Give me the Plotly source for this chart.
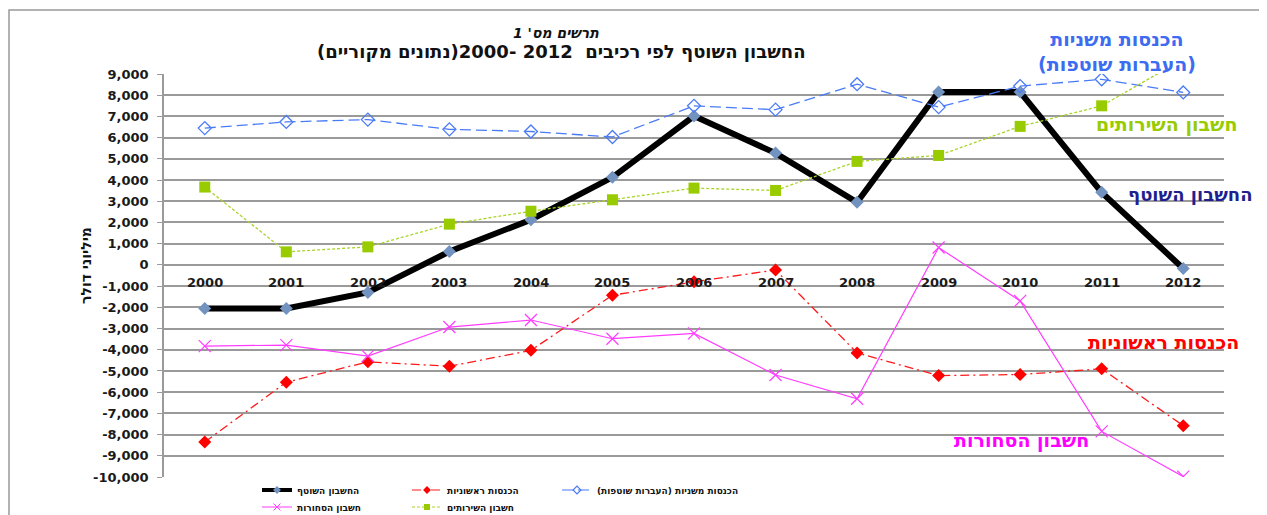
import plotly.graph_objects as go

RLE, PDF = "\u202b", "\u202c"

years = list(range(2000, 2013))
current_account = [-2050, -2050, -1300, 630, 2130, 4130, 7020, 5270, 2950, 8150, 8150, 3420, -170]
primary_income = [-8350, -5530, -4570, -4780, -4030, -1430, -800, -240, -4150, -5220, -5170, -4900, -7580]
secondary_income = [6450, 6740, 6850, 6390, 6290, 6030, 7500, 7320, 8520, 7440, 8430, 8750, 8130]
goods = [-3830, -3780, -4300, -2930, -2600, -3480, -3230, -5190, -6310, 820, -1700, -7850, -9980]
services = [3670, 615, 850, 1920, 2530, 3070, 3620, 3510, 4880, 5160, 6530, 7500, 9700]

tick_vals = list(range(-10000, 9001, 1000))
tick_text = [f"{v:,}" for v in tick_vals]

name_current = "החשבון השוטף"
name_primary = "הכנסות ראשוניות"
name_secondary = "הכנסות משניות (העברות שוטפות)"
name_goods = "חשבון הסחורות"
name_services = "חשבון השירותים"

FONT = "DejaVu Sans, Arial, sans-serif"

series = [
    # name, values, line, marker, legend marker, legend line width, legend id, legend width
    (name_current, current_account,
     dict(color="black", width=6),
     dict(symbol="diamond", size=10, color="#7292c0", line=dict(width=0)),
     dict(symbol="diamond", size=6, color="#7292c0", line=dict(width=0)), 4, "legend", None),
    (name_primary, primary_income,
     dict(color="#ff1a1a", width=1.3, dash="9px,4px,2px,4px"),
     dict(symbol="diamond", size=10, color="#ff0000"),
     dict(symbol="diamond", size=6, color="#ff0000"), 1.2, "legend", None),
    (name_secondary, secondary_income,
     dict(color="#4a7bf7", width=1.3, dash="11px,5px"),
     dict(symbol="diamond-open", size=10, color="#4a7bf7", line=dict(width=1.3)),
     dict(symbol="diamond-open", size=6, color="#4a7bf7", line=dict(width=1.2)), 1.2, "legend", 160),
    (name_goods, goods,
     dict(color="#ff3cff", width=1.2),
     dict(symbol="x-thin-open", size=12, color="#ff3cff", line=dict(width=1.2, color="#ff3cff")),
     dict(symbol="x-thin-open", size=7, color="#ff3cff", line=dict(width=1, color="#ff3cff")), 1.2, "legend2", None),
    (name_services, services,
     dict(color="#a8d42a", width=1.3, dash="3px,2px"),
     dict(symbol="square", size=11, color="#99cc00"),
     dict(symbol="square", size=6, color="#99cc00"), 1.2, "legend2", None),
]

fig = go.Figure()
for name, vals, line, marker, lmarker, lwidth, leg, lw in series:
    fig.add_trace(go.Scatter(x=years, y=vals, name=name, mode="lines+markers",
                             line=line, marker=marker, showlegend=False))
for name, vals, line, marker, lmarker, lwidth, leg, lw in series:
    lline = dict(line)
    lline["width"] = lwidth
    fig.add_trace(go.Scatter(x=[None], y=[None], name=name, mode="lines+markers",
                             line=lline, marker=lmarker, legend=leg, legendwidth=lw,
                             showlegend=True, hoverinfo="skip"))

# geometry helpers (plot area in image pixels); page body adds an 8px offset
OFF = 8
IMG_W, IMG_H = 1267, 515
L, R, T, B = 164, 1224, 74, 477
def px(xp):
    return (xp - L) / (R - L)
def py(yp):
    return (B - yp) / (B - T)

def note(x, y, text, size, color, angle=0):
    return dict(x=px(x), y=py(y), xref="paper", yref="paper", showarrow=False,
                xanchor="center", yanchor="middle", textangle=angle, text=text,
                font=dict(family=FONT, size=size, color=color, weight="bold"))

annotations = []
for yr in years:
    annotations.append(dict(x=yr, y=0, xref="x", yref="y", text=str(yr), showarrow=False,
                            xanchor="center", yanchor="top", yshift=-8,
                            font=dict(family=FONT, size=13, color="#1a1a1a", weight="bold")))

annotations += [
    note(556, 33, f"<i>{RLE}תרשים מס' 1{PDF}</i>", 14, "#111"),
    note(561, 52, f"{RLE}החשבון השוטף לפי רכיבים  2012 -2000(נתונים מקוריים){PDF}", 18, "#111"),
    note(86, 266, f"{RLE}מיליוני דולר{PDF}", 14, "#111", -90),
    note(1117, 52, f"{RLE}הכנסות משניות{PDF}<br>{RLE}(העברות שוטפות){PDF}", 19, "#3d6cf0"),
    note(1167, 125, f"{RLE}{name_services}{PDF}", 19, "#99cc00"),
    note(1190, 195, f"{RLE}{name_current}{PDF}", 18, "#1f1f8f"),
    note(1163, 342, f"{RLE}{name_primary}{PDF}", 19, "#ff0000"),
    note(1021, 440, f"{RLE}{name_goods}{PDF}", 19, "#ff00ff"),
]

legend_common = dict(orientation="h", xanchor="left", yanchor="middle",
                     bgcolor="rgba(0,0,0,0)", entrywidth=105, entrywidthmode="pixels",
                     font=dict(family=FONT, size=9, color="#111", weight="bold"),
                     tracegroupgap=0)

fig.update_layout(
    width=IMG_W - OFF, height=IMG_H - OFF,
    margin=dict(l=L - OFF, r=IMG_W - R, t=T - OFF, b=IMG_H - B, autoexpand=False),
    paper_bgcolor="white", plot_bgcolor="white",
    showlegend=True,
    legend=dict(x=px(257), y=py(490), **legend_common),
    legend2=dict(x=px(257), y=py(507), **legend_common),
    annotations=annotations,
    shapes=[dict(type="rect", xref="paper", yref="paper",
                 x0=px(9), x1=px(1260), y0=py(540), y1=py(10),
                 line=dict(color="#999999", width=1.5), layer="below")],
    xaxis=dict(range=[1999.5, 2012.5], showgrid=False, zeroline=False,
               showticklabels=False, showline=False, ticks=""),
    yaxis=dict(range=[-10000, 9000], tickvals=tick_vals, ticktext=tick_text,
               showgrid=True, gridcolor="#9a9a9a", gridwidth=1.5, zeroline=False,
               showline=True, linecolor="#9a9a9a", linewidth=1.5,
               ticks="outside", ticklen=5, tickcolor="#9a9a9a", ticklabelstandoff=6,
               tickfont=dict(family=FONT, size=13, color="#1a1a1a", weight="bold")),
)

fig.write_html("out.html")
